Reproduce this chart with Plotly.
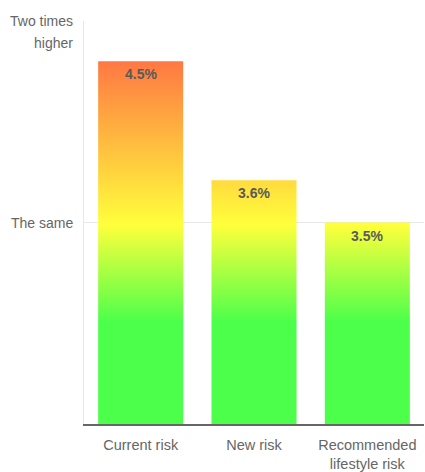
import plotly.graph_objects as go

categories = ["Current risk", "New risk", "Recommended<br>lifestyle risk"]
relative_risk = [1.8, 1.21, 1.0]
risk_labels = ["4.5%", "3.6%", "3.5%"]
y_tick_vals = [1, 2]
y_tick_text = ["The same", "Two times<br>higher"]

bar_half = 0.375
grad_scale = [[0.0, "#4bff4b"], [0.28, "#4bff4b"], [0.55, "#ffff3c"], [1.0, "#ff7843"]]
font_family = "Liberation Sans, Arial, sans-serif"

fig = go.Figure()
for i, v in enumerate(relative_risk):
    xs = [i - bar_half, i - bar_half, i + bar_half, i + bar_half, i - bar_half]
    ys = [0, v, v, 0, 0]
    fig.add_trace(go.Scatter(
        x=xs, y=ys, mode="lines", fill="toself",
        line=dict(width=0),
        fillgradient=dict(type="vertical", colorscale=grad_scale, start=0, stop=1.8),
        hoverinfo="skip", showlegend=False,
    ))

annotations = []
for i, (v, lab) in enumerate(zip(relative_risk, risk_labels)):
    annotations.append(dict(
        x=i, y=v, xref="x", yref="y", yanchor="middle", yshift=-13,
        text="<b>" + lab + "</b>", showarrow=False,
        font=dict(family=font_family, size=14, color="#5a5a5a"),
    ))

for val, txt in zip(y_tick_vals, y_tick_text):
    lines = txt.split("<br>")
    for k, line in enumerate(lines):
        annotations.append(dict(
            x=0, xref="paper", y=val, yref="y", xanchor="right", yanchor="middle",
            xshift=-9, yshift=-22 * k, text=line, showarrow=False,
            font=dict(family=font_family, size=14, color="#666666"),
        ))

fig.update_layout(
    width=425, height=472,
    margin=dict(l=84, r=1, t=21, b=48),
    paper_bgcolor="white", plot_bgcolor="white",
    annotations=annotations,
    xaxis=dict(
        range=[-0.5, len(categories) - 0.5],
        tickvals=list(range(len(categories))), ticktext=categories,
        showgrid=False, zeroline=False,
        showline=True, linecolor="#666666", linewidth=2,
        ticks="", ticklabelstandoff=7,
        tickfont=dict(family=font_family, size=14.5, color="#666666"),
        fixedrange=True,
    ),
    yaxis=dict(
        range=[0, 2], tickvals=y_tick_vals, showticklabels=False,
        showgrid=True, gridcolor="#e8e8e8", gridwidth=1,
        zeroline=False, showline=True, linecolor="#e8e8e8", linewidth=1,
        ticks="", fixedrange=True,
    ),
)

fig.write_html("out.html")
